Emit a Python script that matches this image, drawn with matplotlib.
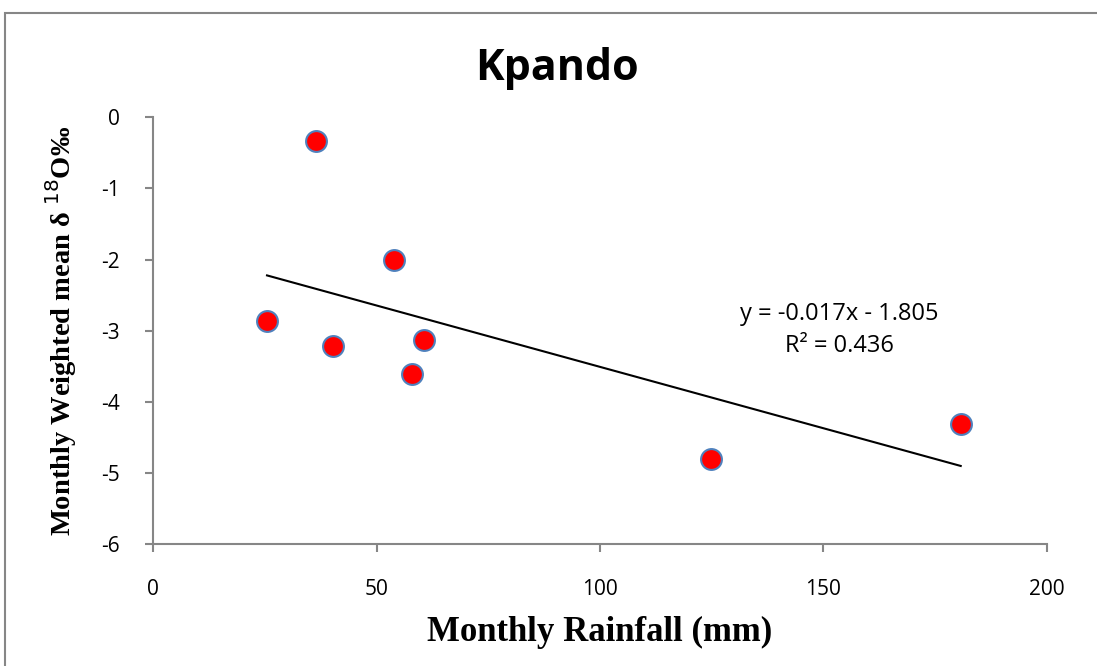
import numpy as np
import matplotlib.pyplot as plt
from matplotlib.patches import Rectangle

plt.rcParams['axes.unicode_minus'] = False

# Datos (lluvia mensual vs delta 18O ponderado)
rainfall = [36.4, 53.8, 25.5, 40.3, 60.6, 57.9, 124.9, 180.7]
d18o = [-0.34, -2.00, -2.87, -3.21, -3.13, -3.61, -4.81, -4.31]

xticks = [0, 50, 100, 150, 200]
yticks = [0, -1, -2, -3, -4, -5, -6]

eq_text = 'y = -0.017x - 1.805\nR² = 0.436'

fig = plt.figure(figsize=(10.97, 6.66), dpi=100)
ax = fig.add_axes([0.1395, 0.1832, 0.8149, 0.6407])

# Recta de tendencia
coef = np.polyfit(rainfall, d18o, 1)
xr = np.array([min(rainfall), max(rainfall)])
ax.plot(xr, np.polyval(coef, xr), color='black', linewidth=1.5, zorder=2)

ax.plot(rainfall, d18o, 'o', markersize=15, markerfacecolor='#ff0000',
        markeredgecolor='#4f81bd', markeredgewidth=1.5, linestyle='none', zorder=3)

ax.set_xlim(0, 200)
ax.set_ylim(-6, 0)
ax.set_xticks(xticks)
ax.set_yticks(yticks)

tick_font = ['Open Sans', 'DejaVu Sans']
for lab in ax.get_xticklabels() + ax.get_yticklabels():
    lab.set_family(tick_font)
    lab.set_fontsize(15)

for s in ['top', 'right']:
    ax.spines[s].set_visible(False)
for s in ['left', 'bottom']:
    ax.spines[s].set_color('#868686')
    ax.spines[s].set_linewidth(1.5)
ax.tick_params(direction='out', length=6, width=1.5, color='#868686', pad=18)
ax.tick_params(axis='x', pad=19)

ax.set_xlabel('Monthly Rainfall (mm)', family='Liberation Serif', fontweight='bold',
              fontsize=25, labelpad=12)
ax.set_ylabel('Monthly Weighted mean δ $^{18}$O‰', family='Liberation Serif',
              fontweight='bold', fontsize=20.5, labelpad=16)

fig.text(557 / 1097, 1 - 80 / 666, 'Kpando', family=['Open Sans', 'DejaVu Sans'],
         fontweight='bold', fontsize=31, ha='center', va='baseline')

ax.text(153.6, -2.99, eq_text, ha='center', va='center', fontsize=17,
        family=tick_font, linespacing=1.45)

# Borde exterior del gráfico
fig.patches.append(Rectangle((5 / 1097, -0.01), 1.1, 1 - 13 / 666 + 0.01,
                             transform=fig.transFigure, fill=False,
                             edgecolor='#868686', linewidth=1.5))

plt.savefig('out.png', dpi=100)
